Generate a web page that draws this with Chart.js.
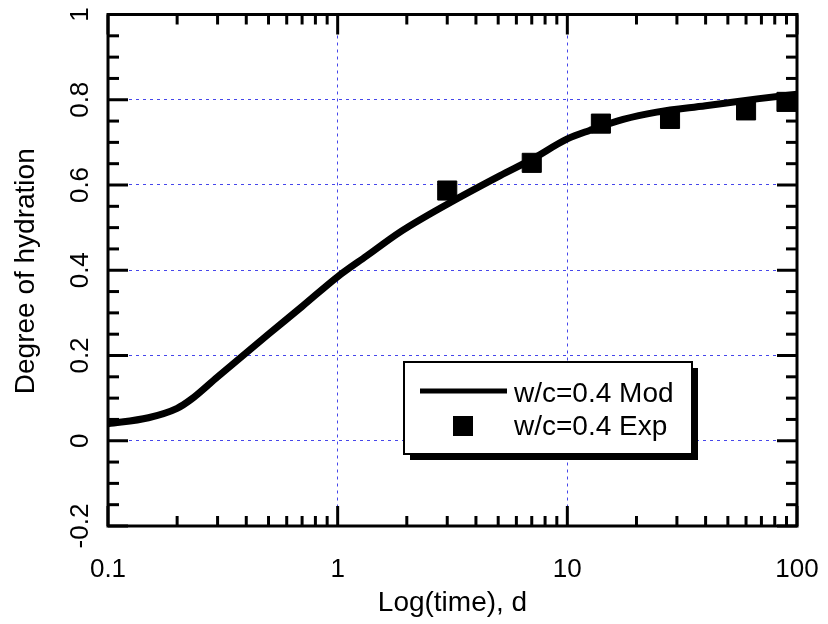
<!DOCTYPE html>
<html>
<head>
<meta charset="utf-8">
<script src="https://cdn.jsdelivr.net/npm/chart.js@4.4.0/dist/chart.umd.min.js"></script>
<style>
  html, body { margin: 0; padding: 0; background: #fff; }
  canvas { display: block; }
</style>
</head>
<body>
<canvas id="myChart" width="828" height="624"></canvas>
<script>
// model curve, w/c = 0.4
const modTime = [0.1, 0.15, 0.2, 0.23, 0.3, 0.5, 0.7, 1, 1.34, 1.86, 3, 5.1, 7, 10, 12.5, 17.5, 24.5, 40, 67, 100];
const modHydration = [0.040, 0.054, 0.076, 0.097, 0.150, 0.250, 0.315, 0.385, 0.434, 0.489, 0.555, 0.622, 0.660, 0.708, 0.728, 0.754, 0.771, 0.786, 0.802, 0.813];

// experiment, w/c = 0.4
const expTime = [3, 7, 14, 28, 60, 90];
const expHydration = [0.587, 0.652, 0.744, 0.755, 0.775, 0.795];

const xTickValues = [0.1, 1, 10, 100];
const xTickLabels = ['0.1', '1', '10', '100'];
const xMinorValues = [0.2, 0.3, 0.4, 0.5, 0.6, 0.7, 0.8, 0.9, 2, 3, 4, 5, 6, 7, 8, 9, 20, 30, 40, 50, 60, 70, 80, 90];
const yTickValues = [-0.2, 0, 0.2, 0.4, 0.6, 0.8, 1];
const yTickLabels = ['-0.2', '0', '0.2', '0.4', '0.6', '0.8', '1'];
const yMinorValues = [-0.15, -0.1, -0.05, 0.05, 0.1, 0.15, 0.25, 0.3, 0.35, 0.45, 0.5, 0.55, 0.65, 0.7, 0.75, 0.85, 0.9, 0.95];

const modLabel = 'w/c=0.4 Mod';
const expLabel = 'w/c=0.4 Exp';
const xTitle = 'Log(time), d';
const yTitle = 'Degree of hydration';

const FONT = '"Liberation Sans", Arial, sans-serif';

const framePlugin = {
    id: 'framePlugin',
    afterDraw: (chart) => {
        const ctx = chart.ctx;
        const area = chart.chartArea;
        const xs = chart.scales.x;
        const ys = chart.scales.y;
        ctx.save();
        ctx.strokeStyle = '#000';
        ctx.lineWidth = 3;
        ctx.setLineDash([]);

        // inward ticks on all four sides
        const tick = (x1, y1, x2, y2) => {
            ctx.beginPath();
            ctx.moveTo(x1, y1);
            ctx.lineTo(x2, y2);
            ctx.stroke();
        };
        xTickValues.forEach((v) => {
            const px = xs.getPixelForValue(v);
            tick(px, area.bottom, px, area.bottom - 20);
            tick(px, area.top, px, area.top + 20);
        });
        xMinorValues.forEach((v) => {
            const px = xs.getPixelForValue(v);
            tick(px, area.bottom, px, area.bottom - 10);
            tick(px, area.top, px, area.top + 10);
        });
        yTickValues.forEach((v) => {
            const py = ys.getPixelForValue(v);
            tick(area.left, py, area.left + 20, py);
            tick(area.right, py, area.right - 20, py);
        });
        yMinorValues.forEach((v) => {
            const py = ys.getPixelForValue(v);
            tick(area.left, py, area.left + 11, py);
            tick(area.right, py, area.right - 11, py);
        });

        ctx.strokeRect(area.left, area.top, area.right - area.left, area.bottom - area.top);

        // tick labels
        ctx.fillStyle = '#000';
        ctx.font = '26px ' + FONT;
        ctx.textAlign = 'center';
        ctx.textBaseline = 'alphabetic';
        xTickValues.forEach((v, i) => {
            ctx.fillText(xTickLabels[i], xs.getPixelForValue(v), area.bottom + 51);
        });
        yTickValues.forEach((v, i) => {
            ctx.save();
            ctx.translate(area.left - 20, ys.getPixelForValue(v));
            ctx.rotate(-Math.PI / 2);
            ctx.fillText(yTickLabels[i], 0, 0);
            ctx.restore();
        });

        // axis titles
        ctx.font = '28px ' + FONT;
        ctx.fillText(xTitle, (area.left + area.right) / 2, 611);
        ctx.save();
        ctx.translate(34, (area.top + area.bottom) / 2 + 1);
        ctx.rotate(-Math.PI / 2);
        ctx.fillText(yTitle, 0, 0);
        ctx.restore();

        // legend box with shadow
        const bx = 404, by = 362, bw = 288, bh = 92;
        ctx.fillStyle = '#000';
        ctx.fillRect(bx + 6, by + 6, bw, bh);
        ctx.fillStyle = '#fff';
        ctx.fillRect(bx, by, bw, bh);
        ctx.lineWidth = 2;
        ctx.strokeRect(bx, by, bw, bh);

        ctx.lineWidth = 5;
        tick(420, 391, 507, 391);
        ctx.fillStyle = '#000';
        ctx.fillRect(453, 416, 20, 20);

        ctx.font = '28px ' + FONT;
        ctx.textAlign = 'left';
        ctx.fillText(chart.data.datasets[1].label, 514, 402);
        ctx.fillText(chart.data.datasets[0].label, 514, 435);
        ctx.restore();
    }
};

const ctx = document.getElementById('myChart').getContext('2d');
const myChart = new Chart(ctx, {
    type: 'scatter',
    data: {
        datasets: [{
            label: expLabel,
            data: expTime.map((t, i) => ({ x: t, y: expHydration[i] })),
            pointStyle: 'rect',
            pointRadius: 13.5,
            pointBorderWidth: 1,
            backgroundColor: '#000',
            borderColor: '#000',
            showLine: false,
            order: 1
        }, {
            label: modLabel,
            data: modTime.map((t, i) => ({ x: t, y: modHydration[i] })),
            showLine: true,
            borderColor: '#000',
            borderWidth: 7,
            pointRadius: 0,
            cubicInterpolationMode: 'monotone',
            order: 2
        }]
    },
    options: {
        responsive: false,
        animation: false,
        devicePixelRatio: 1,
        layout: {
            padding: { left: 108, right: 31, top: 11, bottom: 98 }
        },
        plugins: {
            legend: { display: false },
            tooltip: { enabled: false }
        },
        scales: {
            x: {
                type: 'logarithmic',
                min: 0.1,
                max: 100,
                afterBuildTicks: (scale) => {
                    scale.ticks = xTickValues.map((v) => ({ value: v }));
                },
                ticks: { display: false },
                grid: {
                    color: 'rgb(70, 70, 235)',
                    lineWidth: 1,
                    drawTicks: false
                },
                border: { display: false, dash: [3, 4] }
            },
            y: {
                type: 'linear',
                min: -0.2,
                max: 1,
                afterBuildTicks: (scale) => {
                    scale.ticks = yTickValues.map((v) => ({ value: v }));
                },
                ticks: { display: false },
                grid: {
                    color: 'rgb(70, 70, 235)',
                    lineWidth: 1,
                    drawTicks: false
                },
                border: { display: false, dash: [3, 4] }
            }
        }
    },
    plugins: [framePlugin]
});
</script>
</body>
</html>
